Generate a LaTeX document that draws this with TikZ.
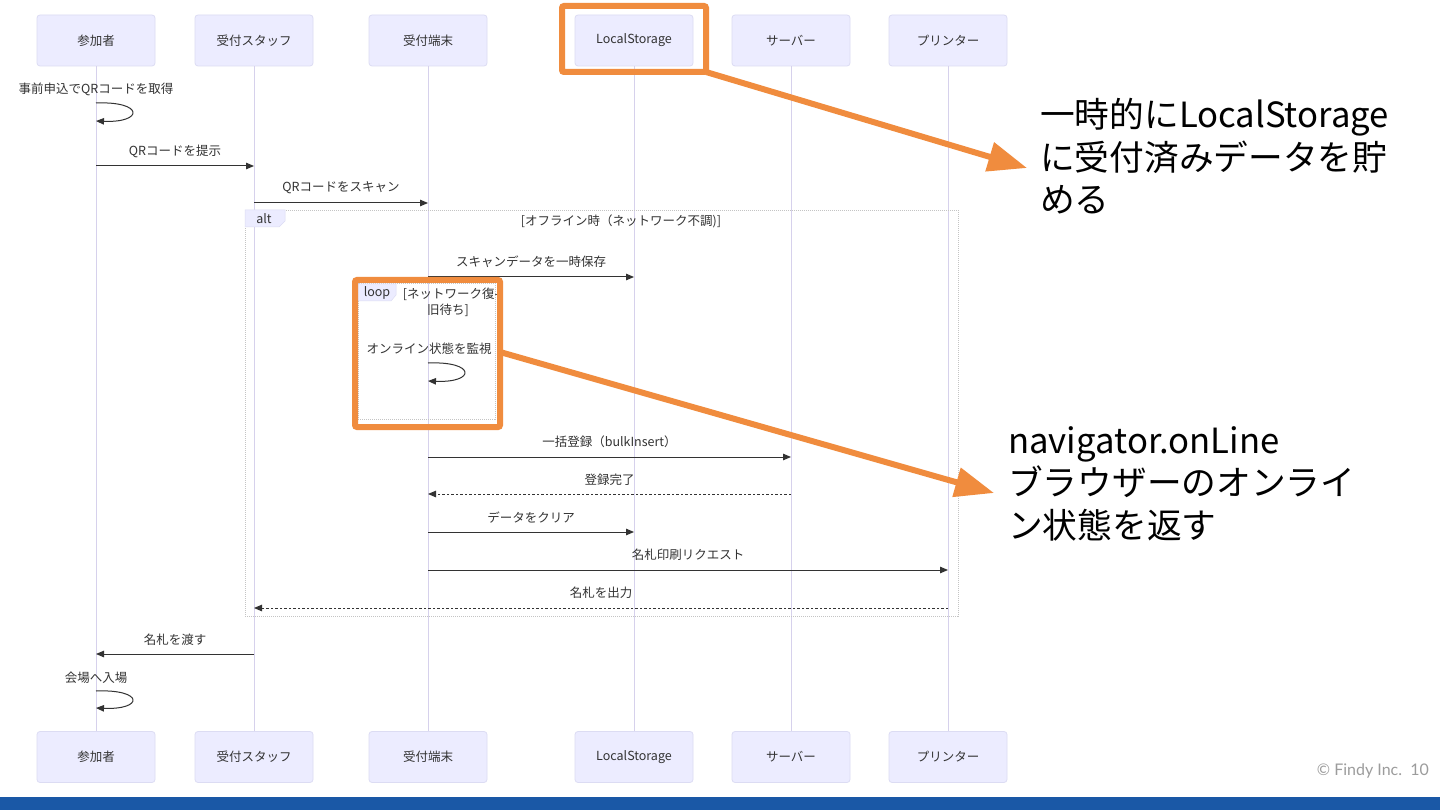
\documentclass[tikz,border=0pt]{standalone}
\usepackage{fontspec}
\setmainfont{Noto Sans CJK JP}
\newfontfamily\footfont{Lato}
\usetikzlibrary{arrows.meta, positioning, calc}
\definecolor{actor-fill}{HTML}{ECECFF}
\definecolor{actor-border}{HTML}{DCDCF3}
\definecolor{lifeline-purple}{HTML}{D6D1EC}
\definecolor{msg-ink}{HTML}{333333}
\definecolor{frame-gray}{HTML}{C4C4C4}
\definecolor{note-orange}{HTML}{F08C3E}
\definecolor{footer-gray}{HTML}{9C9C9C}
\definecolor{bar-blue}{HTML}{1A58A6}
\tikzset{
  actor-node/.style={
    draw=actor-border, fill=actor-fill, rounded corners=3pt, line width=0.8pt,
    minimum width=118pt, minimum height=51pt, text=msg-ink,
    font=\fontsize{12.5}{14}\selectfont
  },
  life-line/.style={line width=1pt, draw=lifeline-purple},
  msg-edge/.style={-{Triangle[length=8pt, width=6.5pt]}, line width=1pt, draw=msg-ink},
  reply-edge/.style={msg-edge, dash pattern=on 2.5pt off 2pt},
  msg-label/.style={inner sep=0pt, text=msg-ink, font=\fontsize{12.5}{15}\selectfont},
  frame-box/.style={draw=frame-gray, line width=0.8pt, dash pattern=on 1pt off 1pt},
  frame-tag/.style={fill=actor-fill, draw=actor-border, line width=0.5pt},
  hl-box/.style={draw=note-orange, line width=6pt, rounded corners=2pt, outer sep=0pt},
  hl-edge/.style={-{Triangle[length=39pt, width=29pt]}, line width=6pt, draw=note-orange},
  note-text/.style={
    inner sep=0pt, anchor=base west, align=left, text=black,
    font=\fontsize{34.7}{42.5}\selectfont
  }
}

\begin{document}
\begin{tikzpicture}[x=1pt, y=-1pt]
  \useasboundingbox[fill=white] (0,0) rectangle (1440,810);

  % 参加者（上段・下段）
  \node[actor-node] (guest)     at (96, 40.5)  {参加者};
  \node[actor-node] (staff)     at (254, 40.5) {受付スタッフ};
  \node[actor-node] (kiosk)     at (428, 40.5) {受付端末};
  \node[actor-node] (store)     at (634, 40.5) {LocalStorage};
  \node[actor-node] (server)    at (791, 40.5) {サーバー};
  \node[actor-node] (printer)   at (948, 40.5) {プリンター};

  \node[actor-node] (guest-b)   at (96, 757)   {参加者};
  \node[actor-node] (staff-b)   at (254, 757)  {受付スタッフ};
  \node[actor-node] (kiosk-b)   at (428, 757)  {受付端末};
  \node[actor-node] (store-b)   at (634, 757)  {LocalStorage};
  \node[actor-node] (server-b)  at (791, 757)  {サーバー};
  \node[actor-node] (printer-b) at (948, 757)  {プリンター};

  % ライフライン
  \draw[life-line] (guest) -- (guest-b);
  \draw[life-line] (staff) -- (staff-b);
  \draw[life-line] (kiosk) -- (kiosk-b);
  \draw[life-line] (store) -- (store-b);
  \draw[life-line] (server) -- (server-b);
  \draw[life-line] (printer) -- (printer-b);

  % メッセージの行
  \coordinate (row-get)   at (0, 103);
  \coordinate (row-get2)  at (0, 121);
  \coordinate (row-show)  at (0, 166);
  \coordinate (row-scan)  at (0, 203);
  \coordinate (row-save)  at (0, 277);
  \coordinate (row-watch) at (0, 363);
  \coordinate (row-watch2) at (0, 381);
  \coordinate (row-bulk)  at (0, 457);
  \coordinate (row-done)  at (0, 494);
  \coordinate (row-clear) at (0, 532);
  \coordinate (row-print) at (0, 570);
  \coordinate (row-out)   at (0, 608);
  \coordinate (row-hand)  at (0, 654);
  \coordinate (row-enter) at (0, 691);
  \coordinate (row-enter2) at (0, 708);

  % alt / loop の枠
  \node[frame-box, minimum width=713pt, minimum height=406pt] (alt-frame) at (601.5, 413) {};
  \draw[frame-tag] (245,210) -- (285,210) -- (285,221) -- (279,227) -- (245,227) -- cycle;
  \node[msg-label] (alt-tag) at (264, 219) {alt};
  \node[msg-label] (alt-cond) at (621, 221.5) {[オフライン時（ネットワーク不調)]};

  \node[frame-box, minimum width=137pt, minimum height=136pt] (loop-frame) at (426.5, 351) {};
  \draw[frame-tag] (358,284) -- (396,284) -- (396,295) -- (391,301) -- (358,301) -- cycle;
  \node[msg-label] (loop-tag) at (377, 293) {loop};
  \node[msg-label] (loop-cond) at (451, 294.5) {[ネットワーク復-};
  \node[msg-label] (loop-cond2) at (448, 310.5) {旧待ち]};

  % メッセージ
  \node[msg-label] (get-label) at (96, 89) {事前申込でQRコードを取得};
  \draw[msg-edge] (guest |- row-get) .. controls +(48,-2) and +(48,2) .. (guest |- row-get2);

  \draw[msg-edge] (guest |- row-show) -- (staff |- row-show)
    node[msg-label, midway, yshift=15pt] {QRコードを提示};
  \draw[msg-edge] (staff |- row-scan) -- (kiosk |- row-scan)
    node[msg-label, midway, yshift=15pt] {QRコードをスキャン};
  \draw[msg-edge] (kiosk |- row-save) -- (store |- row-save)
    node[msg-label, midway, yshift=15pt] {スキャンデータを一時保存};

  \node[msg-label] (watch-label) at (429, 349) {オンライン状態を監視};
  \draw[msg-edge] (kiosk |- row-watch) .. controls +(48,-2) and +(48,2) .. (kiosk |- row-watch2);

  \draw[msg-edge] (kiosk |- row-bulk) -- (server |- row-bulk)
    node[msg-label, midway, yshift=15.5pt] {一括登録（bulkInsert）};
  \draw[reply-edge] (server |- row-done) -- (kiosk |- row-done)
    node[msg-label, midway, yshift=14pt] {登録完了};
  \draw[msg-edge] (kiosk |- row-clear) -- (store |- row-clear)
    node[msg-label, midway, yshift=14pt] {データをクリア};
  \draw[msg-edge] (kiosk |- row-print) -- (printer |- row-print)
    node[msg-label, midway, yshift=15pt] {名札印刷リクエスト};
  \draw[reply-edge] (printer |- row-out) -- (staff |- row-out)
    node[msg-label, midway, yshift=15pt] {名札を出力};
  \draw[msg-edge] (staff |- row-hand) -- (guest |- row-hand)
    node[msg-label, midway, yshift=14pt] {名札を渡す};

  \node[msg-label] (enter-label) at (96, 678) {会場へ入場};
  \draw[msg-edge] (guest |- row-enter) .. controls +(48,-2) and +(48,2) .. (guest |- row-enter2);

  % 強調枠と注記
  \node[hl-box, minimum width=144pt, minimum height=66pt] (hl-store) at (634, 39) {};
  \node[hl-box, minimum width=145pt, minimum height=147pt] (hl-loop) at (427.5, 353.5) {};

  \node[note-text] (note-store) at (1040, 213)
    {一時的にLocalStorage\\に受付済みデータを貯\\める};
  \node[note-text] (note-online) at (1008, 538)
    {navigator.onLine\\ブラウザーのオンライ\\ン状態を返す};

  \coordinate (tip-store) at (1027, 168);
  \coordinate (tip-online) at (994, 493);
  \draw[hl-edge] (hl-store.south east) -- (tip-store);
  \draw[hl-edge] ($(hl-loop.east)+(0,-1.5)$) -- (tip-online);

  % フッター
  \fill[bar-blue] (0,797) rectangle (1440,810);
  \node[inner sep=0pt, anchor=east, text=footer-gray, font=\footfont\fontsize{16}{19}\selectfont]
    (footer) at (1429, 771) {© Findy Inc.\ \ 10};
\end{tikzpicture}
\end{document}
